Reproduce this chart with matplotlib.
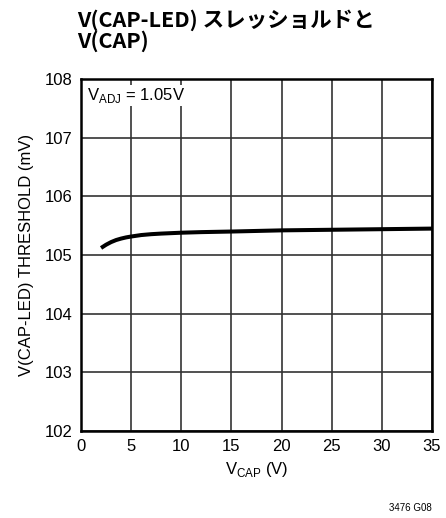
import matplotlib
matplotlib.use("Agg")
import matplotlib.pyplot as plt
from matplotlib import font_manager

# V(CAP-LED) threshold vs V(CAP), VADJ = 1.05V
vcap = [2, 2.5, 3, 3.5, 4, 4.5, 5, 6, 7, 8, 10, 12, 15, 20, 25, 30, 35]
threshold = [105.12, 105.175, 105.22, 105.255, 105.28, 105.30, 105.315,
             105.34, 105.355, 105.365, 105.38, 105.39, 105.40, 105.42,
             105.43, 105.44, 105.45]
xticks = [0, 5, 10, 15, 20, 25, 30, 35]
yticks = [102, 103, 104, 105, 106, 107, 108]

names = {f.name for f in font_manager.fontManager.ttflist}
narrow = "Liberation Sans Narrow" if "Liberation Sans Narrow" in names else "Liberation Sans"
plt.rcParams['font.family'] = [narrow, 'DejaVu Sans']

fig = plt.figure(figsize=(4.46, 5.18), dpi=100)
ax = fig.add_axes([81/446, 1 - 431/518, 351/446, 352/518])

ax.plot(vcap, threshold, color="black", lw=2.9, solid_capstyle="butt", zorder=3)

ax.set_xlim(0, 35)
ax.set_ylim(102, 108)
ax.set_xticks(xticks)
ax.set_yticks(yticks)
ax.tick_params(length=0, labelsize=12, pad=6)
ax.grid(True, color="#333333", lw=1.2)
for s in ax.spines.values():
    s.set_linewidth(1.8)
    s.set_color("black")

ax.set_xlabel("V$_{\\mathregular{CAP}}$ (V)", fontsize=12, labelpad=4)
ax.set_ylabel("V(CAP-LED) THRESHOLD (mV)", fontsize=12, labelpad=8)

ax.text(0.6, 107.72, "V$_{\\mathregular{ADJ}}$ = 1.05V", fontsize=12,
        va="center", ha="left", zorder=4,
        bbox=dict(facecolor="white", edgecolor="none", pad=1))

title_font = ['Noto Sans CJK JP', 'DejaVu Sans']
fig.text(77/446, 1 - 20/518, "V(CAP-LED) スレッショルドと", fontsize=15.5,
         fontweight="bold", family=title_font, va="center", ha="left")
fig.text(77/446, 1 - 41/518, "V(CAP)", fontsize=15.5,
         fontweight="bold", family=title_font, va="center", ha="left")

fig.text(432/446, 1 - 508/518, "3476 G08", fontsize=7, ha="right", va="center")

fig.savefig("out.png", dpi=100)
